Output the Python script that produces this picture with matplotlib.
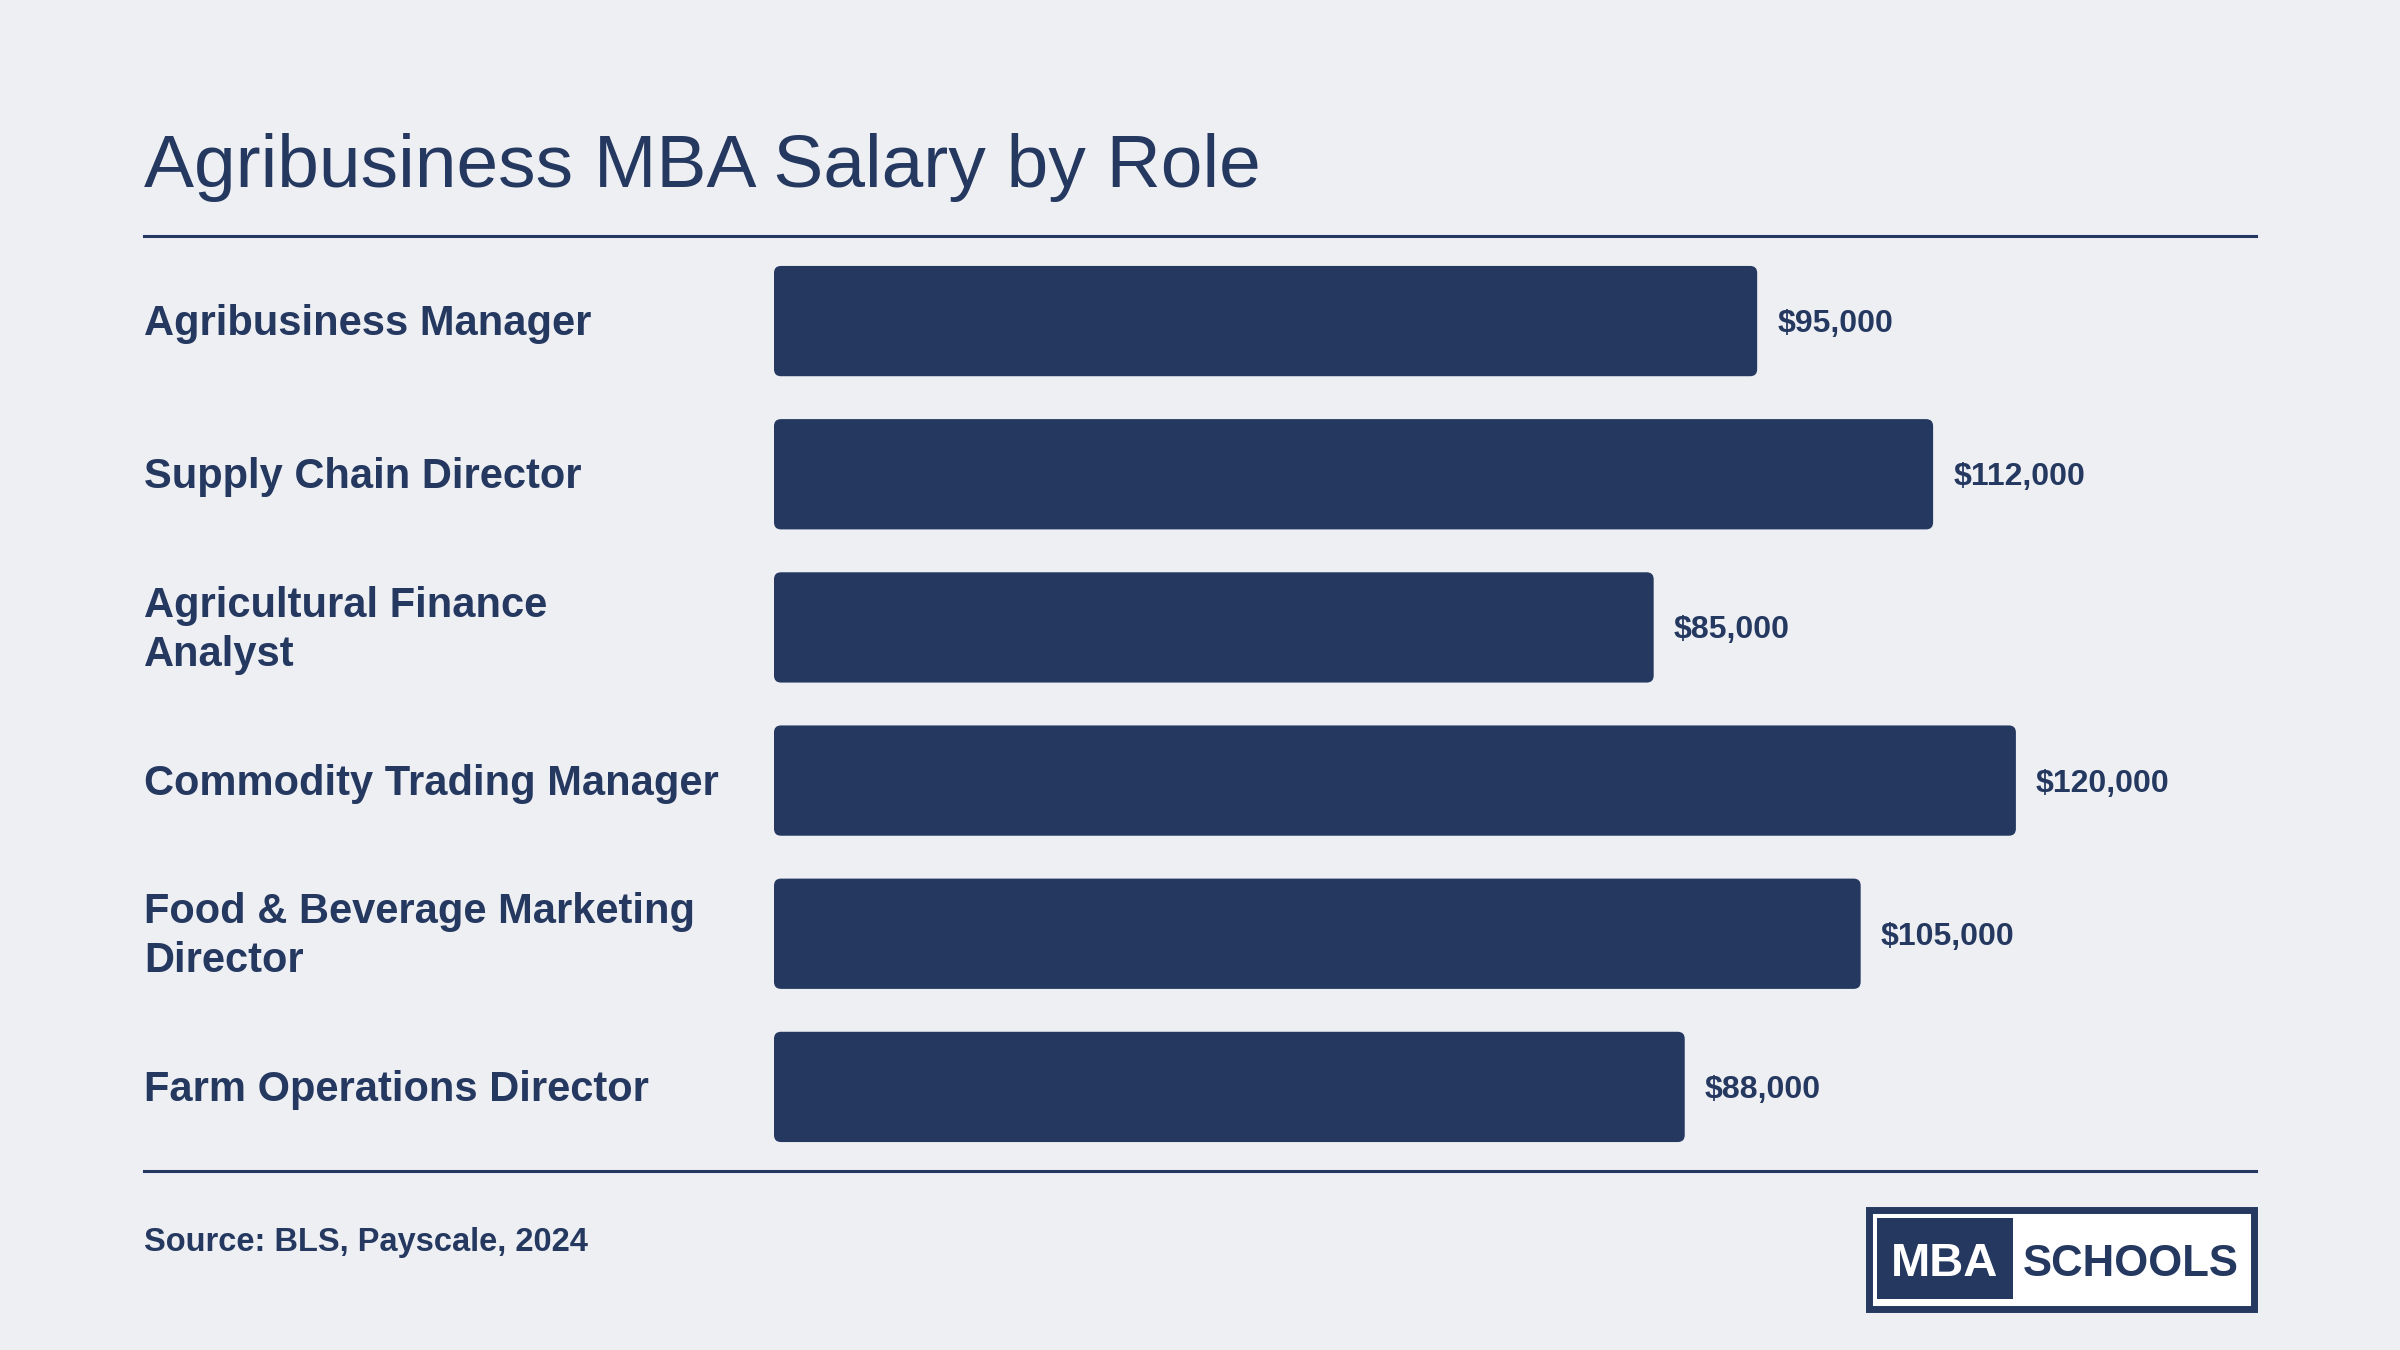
import matplotlib
matplotlib.use("Agg")
import matplotlib.pyplot as plt
from matplotlib.patches import FancyBboxPatch, Rectangle
from matplotlib.lines import Line2D
import matplotlib.transforms as mtransforms

# data
roles = ["Agribusiness Manager", "Supply Chain Director", "Agricultural Finance\nAnalyst",
         "Commodity Trading Manager", "Food & Beverage Marketing\nDirector", "Farm Operations Director"]
salaries = [95000, 112000, 85000, 120000, 105000, 88000]
value_labels = ["$95,000", "$112,000", "$85,000", "$120,000", "$105,000", "$88,000"]

title = "Agribusiness MBA Salary by Role"
source = "Source: BLS, Payscale, 2024"

NAVY = "#243860"
BG = "#EEEFF3"
plt.rcParams["font.family"] = ["Liberation Sans", "DejaVu Sans"]

W, H = 2400, 1350
fig = plt.figure(figsize=(24, 13.5), dpi=100, facecolor=BG)

# axes for bars
left, right = 774, 2256
top, bottom = 244.5, 1163.5
ax = fig.add_axes([left / W, 1 - bottom / H, (right - left) / W, (bottom - top) / H])
ax.set_facecolor(BG)
ax.set_xlim(0, 143200)
ax.set_ylim(len(roles) - 0.5, -0.5)
ax.axis("off")

bars = ax.barh(range(len(roles)), salaries, height=0.72, color=NAVY)

# rounded corners: swap each bar for a rounded patch
x_per_px = 143200 / (right - left)
y_per_px = len(roles) / (bottom - top)
for b in bars:
    b.set_visible(False)
    x0, y0 = b.get_x(), b.get_y()
    w, h = b.get_width(), b.get_height()
    p = FancyBboxPatch((x0, y0), w, h,
                       boxstyle="round,pad=0,rounding_size=%f" % (7 * x_per_px),
                       mutation_aspect=y_per_px / x_per_px,
                       fc=NAVY, ec="none")
    ax.add_patch(p)

for i, (v, lab) in enumerate(zip(salaries, value_labels)):
    ax.text(v + 20 * x_per_px, i + 3 * y_per_px, lab, va="center", ha="left",
            fontsize=23, fontweight="bold", color=NAVY)

# category labels
trans = mtransforms.blended_transform_factory(fig.transFigure, ax.transData)
for i, r in enumerate(roles):
    ax.text(144 / W, i + 3 * y_per_px, r, transform=trans, va="center", ha="left",
            fontsize=30, fontweight="bold", color=NAVY, linespacing=1.3)

# title, rules, source
fig.text(144 / W, 1 - 187 / H, title, fontsize=54, color=NAVY, va="baseline", ha="left")
for yy in (236, 1171):
    fig.add_artist(Line2D([144 / W, 2256 / W], [1 - yy / H, 1 - yy / H],
                          color=NAVY, lw=2.2, transform=fig.transFigure))
fig.text(144 / W, 1 - 1251 / H, source, fontsize=23.5, fontweight="bold",
         color=NAVY, va="baseline", ha="left")

# logo
fig.add_artist(Rectangle((1869 / W, 1 - 1309 / H), (2254 - 1869) / W, (1309 - 1210) / H,
                         transform=fig.transFigure, fc="white", ec=NAVY, lw=5))
fig.add_artist(Rectangle((1877 / W, 1 - 1299 / H), (2013 - 1877) / W, (1299 - 1218) / H,
                         transform=fig.transFigure, fc=NAVY, ec="none"))
fig.text(1945 / W, 1 - 1264 / H, "MBA", fontsize=34, fontweight="bold",
         color="white", ha="center", va="center")
fig.text(2131 / W, 1 - 1264 / H, "SCHOOLS", fontsize=31.5, fontweight="bold",
         color=NAVY, ha="center", va="center")

fig.savefig("out.png", dpi=100, facecolor=BG)
